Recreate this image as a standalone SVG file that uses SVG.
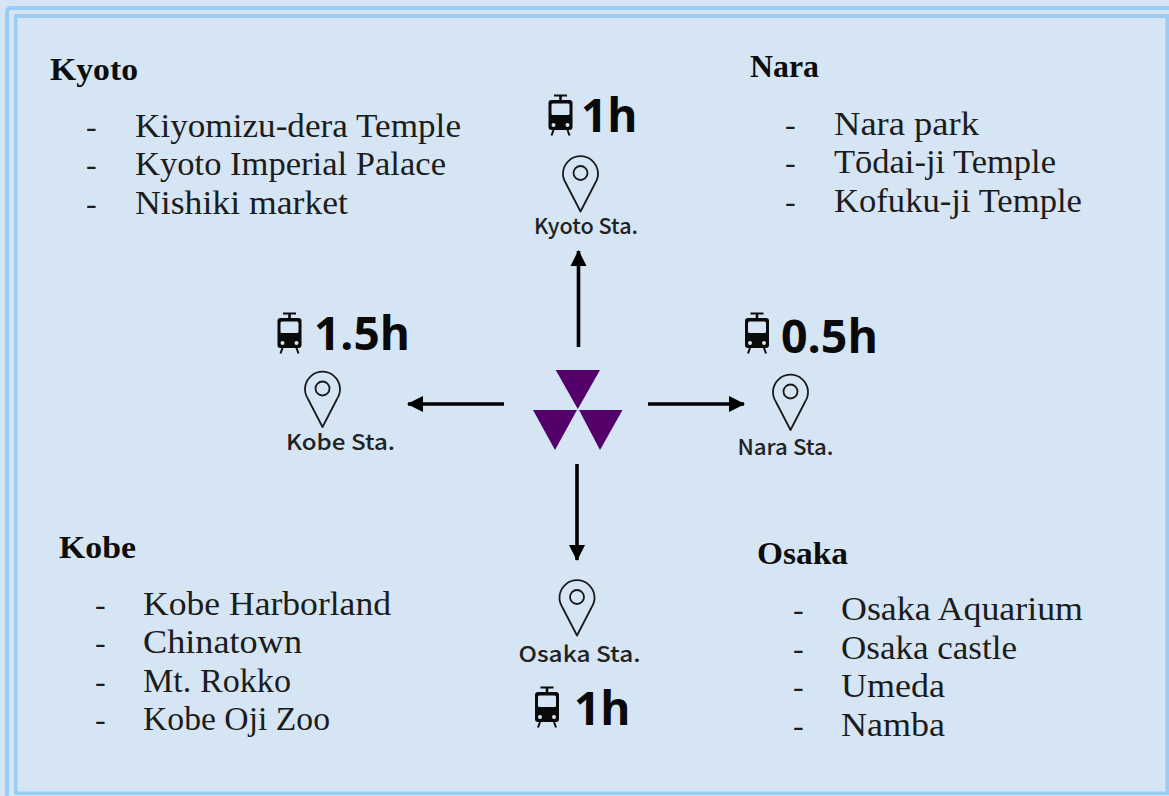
<svg xmlns="http://www.w3.org/2000/svg" width="1169" height="796" viewBox="0 0 1169 796">
<style>
.h{font:bold 32px "Liberation Serif",serif;fill:#0d0d0d}
.t{font:34px "Liberation Serif",serif;fill:#1c1c1c}
.d{font:32px "Liberation Serif",serif;fill:#1c1c1c}
.time{font:bold 46px "Open Sans",sans-serif;fill:#0a0a0a}
.st{font:500 22px "Noto Sans CJK JP","Noto Sans",sans-serif;fill:#222}
.c{stroke:#000;stroke-width:3.600;fill:none;marker-end:url(#a)}
.pin{fill:none;stroke:#1a1a1a;stroke-width:1.8}
.f{fill:#9bcdf3}
</style>
<defs>
<filter id="soft" x="-5%" y="-5%" width="110%" height="110%"><feGaussianBlur stdDeviation="0.6"/></filter>
<marker id="a" markerUnits="userSpaceOnUse" markerWidth="18" markerHeight="18" refX="15" refY="9" orient="auto"><path d="M0 1L16 9L0 17Z" fill="#000"/></marker>
<g id="pinI"><path class="pin" d="M0 43.500L-14.500 15.500A17.500 17.500 0 1 1 14.500 15.500Z" stroke-linejoin="round"/><circle class="pin" cx="0" cy="5" r="7"/></g>
<g id="train"><path fill="#0a0a0a" d="M-12 -10Q-12 -13 -9 -13L-1.300 -13L-1.300 -16.500L-6.500 -16.500L-6.500 -18.500L6.500 -18.500L6.500 -16.500L1.300 -16.500L1.300 -13L9 -13Q12 -13 12 -10L12 14Q12 17 9 17L-9 17Q-12 17 -12 14Z"/><rect x="-9" y="-9.500" width="18" height="11.500" rx="1.500" fill="#d5e5f3"/><circle cx="-7" cy="12" r="2" fill="#d5e5f3"/><circle cx="7" cy="12" r="2" fill="#d5e5f3"/><path d="M-7 17L-9 22.500M7 17L9 22.500" stroke="#0a0a0a" stroke-width="2" fill="none"/></g>
</defs>
<rect width="1169" height="796" fill="#d5e5f3"/>
<g id="frame">
<path class="f" d="M5 796V12Q5 6 11 6H1169V10H11Q9 10 9 12V796Z"/>
<path class="f" d="M14 14H1169V795H14ZM17.500 18V791.500H1165.500V18Z" fill-rule="evenodd"/>
</g>

<g id="connectors">
<path class="c" d="M578.500 347V251"/>
<path class="c" d="M504 404H408"/>
<path class="c" d="M648 404H744"/>
<path class="c" d="M577 464V560"/>
</g>

<g id="hub"><path fill="#52006a" filter="url(#soft)" d="M555.700 370H600L577.800 409ZM533 410H577L555 450ZM579 410H622.500L600 450Z"/></g>

<g id="kyoto-info" transform="translate(0,1)">
<text class="h" x="50" y="79" textLength="88" lengthAdjust="spacingAndGlyphs">Kyoto</text>
<text class="d" x="86" y="136">-</text><text class="t" x="135" y="136" textLength="326" lengthAdjust="spacingAndGlyphs">Kiyomizu-dera Temple</text>
<text class="d" x="86" y="174">-</text><text class="t" x="135" y="174" textLength="311" lengthAdjust="spacingAndGlyphs">Kyoto Imperial Palace</text>
<text class="d" x="86" y="213">-</text><text class="t" x="135" y="213" textLength="213" lengthAdjust="spacingAndGlyphs">Nishiki market</text>
</g>
<g id="nara-info" transform="translate(0,1)">
<text class="h" x="750" y="76" textLength="69" lengthAdjust="spacingAndGlyphs">Nara</text>
<text class="d" x="785" y="134">-</text><text class="t" x="834" y="134" textLength="145" lengthAdjust="spacingAndGlyphs">Nara park</text>
<text class="d" x="785" y="172">-</text><text class="t" x="834" y="172" textLength="222" lengthAdjust="spacingAndGlyphs">Tōdai-ji Temple</text>
<text class="d" x="785" y="211">-</text><text class="t" x="834" y="211" textLength="248" lengthAdjust="spacingAndGlyphs">Kofuku-ji Temple</text>
</g>
<g id="kobe-info" transform="translate(0,1)">
<text class="h" x="59" y="557" textLength="77" lengthAdjust="spacingAndGlyphs">Kobe</text>
<text class="d" x="95" y="614">-</text><text class="t" x="143" y="614" textLength="248" lengthAdjust="spacingAndGlyphs">Kobe Harborland</text>
<text class="d" x="95" y="652">-</text><text class="t" x="143" y="652" textLength="159" lengthAdjust="spacingAndGlyphs">Chinatown</text>
<text class="d" x="95" y="691">-</text><text class="t" x="143" y="691" textLength="148" lengthAdjust="spacingAndGlyphs">Mt. Rokko</text>
<text class="d" x="95" y="729">-</text><text class="t" x="143" y="729" textLength="187" lengthAdjust="spacingAndGlyphs">Kobe Oji Zoo</text>
</g>
<g id="osaka-info" transform="translate(0,1)">
<text class="h" x="757" y="563" textLength="91" lengthAdjust="spacingAndGlyphs">Osaka</text>
<text class="d" x="793" y="619">-</text><text class="t" x="841" y="619" textLength="242" lengthAdjust="spacingAndGlyphs">Osaka Aquarium</text>
<text class="d" x="793" y="658">-</text><text class="t" x="841" y="658" textLength="176" lengthAdjust="spacingAndGlyphs">Osaka castle</text>
<text class="d" x="793" y="696">-</text><text class="t" x="841" y="696" textLength="104" lengthAdjust="spacingAndGlyphs">Umeda</text>
<text class="d" x="793" y="735">-</text><text class="t" x="841" y="735" textLength="104" lengthAdjust="spacingAndGlyphs">Namba</text>
</g>

<g id="kyoto-st">
<use href="#train" x="560.500" y="113"/><text class="time" x="581" y="132">1h</text>
<use href="#pinI" x="580.500" y="168"/><text class="st" x="534" y="234" textLength="104" lengthAdjust="spacingAndGlyphs">Kyoto Sta.</text>
</g>
<g id="kobe-st">
<use href="#train" x="289.500" y="331"/><text class="time" x="314" y="350">1.5h</text>
<use href="#pinI" x="322.500" y="383.500"/><text class="st" x="286" y="450" textLength="109" lengthAdjust="spacingAndGlyphs">Kobe Sta.</text>
</g>
<g id="nara-st">
<use href="#train" x="757" y="331"/><text class="time" x="781" y="353" textLength="97" lengthAdjust="spacingAndGlyphs">0.5h</text>
<use href="#pinI" x="790.500" y="386.500"/><text class="st" x="737.500" y="455" textLength="96" lengthAdjust="spacingAndGlyphs">Nara Sta.</text>
</g>
<g id="osaka-st">
<use href="#train" x="547" y="705"/><text class="time" x="574" y="725">1h</text>
<use href="#pinI" x="577" y="592"/><text class="st" x="518.500" y="662" textLength="122" lengthAdjust="spacingAndGlyphs">Osaka Sta.</text>
</g>
</svg>
